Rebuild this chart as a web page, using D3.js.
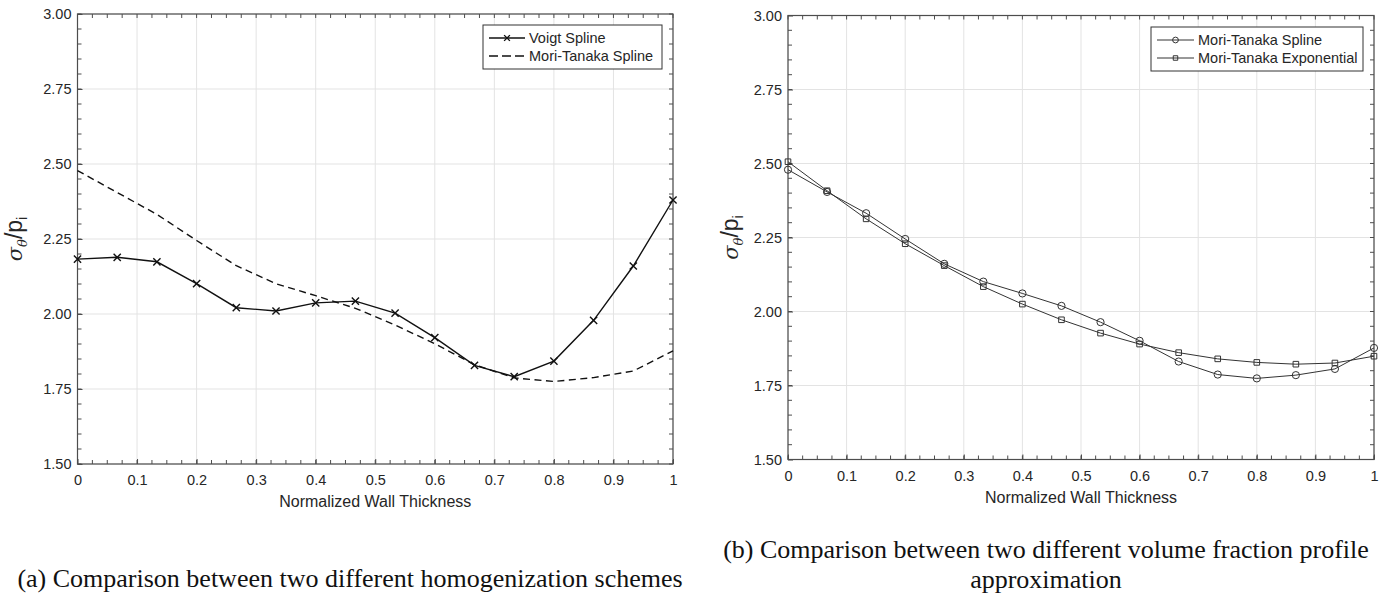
<!DOCTYPE html>
<html>
<head>
<meta charset="utf-8">
<script src="https://cdn.jsdelivr.net/npm/d3@7"></script>
<style>
  body { margin: 0; background: #fff; }
  svg { display: block; }
  text { font-family: "Liberation Sans", Arial, sans-serif; fill: #262626; }
  .caption { font-family: "Liberation Serif", "Times New Roman", serif; fill: #111; }
</style>
</head>
<body>
<script>
// normalized wall thickness positions (16 points)
const thickness = [0, 1/15, 2/15, 3/15, 4/15, 5/15, 6/15, 7/15, 8/15, 9/15, 10/15, 11/15, 12/15, 13/15, 14/15, 1];

// panel (a)
const voigtSpline = [2.183, 2.189, 2.174, 2.101, 2.021, 2.010, 2.037, 2.043, 2.003, 1.921, 1.829, 1.791, 1.843, 1.979, 2.160, 2.380];
const moriTanakaSplineA = [2.478, 2.405, 2.332, 2.245, 2.161, 2.101, 2.061, 2.019, 1.963, 1.901, 1.831, 1.787, 1.775, 1.788, 1.810, 1.877];

// panel (b)
const moriTanakaSpline = [2.479, 2.404, 2.332, 2.245, 2.161, 2.101, 2.061, 2.019, 1.964, 1.901, 1.831, 1.787, 1.774, 1.785, 1.806, 1.877];
const moriTanakaExp = [2.506, 2.408, 2.313, 2.229, 2.155, 2.084, 2.025, 1.972, 1.927, 1.890, 1.861, 1.840, 1.828, 1.822, 1.826, 1.849];

const xTicks = [0, 0.1, 0.2, 0.3, 0.4, 0.5, 0.6, 0.7, 0.8, 0.9, 1];
const yTicks = [1.5, 1.75, 2.0, 2.25, 2.5, 2.75, 3.0];

const captionA = ["(a) Comparison between two different homogenization schemes"];
const captionB = ["(b) Comparison between two different volume fraction profile", "approximation"];

const svg = d3.select("body").append("svg")
    .attr("width", 1389).attr("height", 612);

function drawPanel(p) {
    const x = d3.scaleLinear().domain([0, 1]).range([p.left, p.right]);
    const y = d3.scaleLinear().domain([1.5, 3]).range([p.bottom, p.top]);
    const g = svg.append("g");

    // grid
    g.selectAll(".gx").data(xTicks).enter().append("line")
        .attr("x1", d => x(d)).attr("x2", d => x(d))
        .attr("y1", p.top).attr("y2", p.bottom)
        .attr("stroke", "#e3e3e3").attr("stroke-width", 1);
    g.selectAll(".gy").data(yTicks).enter().append("line")
        .attr("x1", p.left).attr("x2", p.right)
        .attr("y1", d => y(d)).attr("y2", d => y(d))
        .attr("stroke", "#e3e3e3").attr("stroke-width", 1);

    // minor ticks on all four sides, pointing inward
    const xMinor = d3.range(0, 1.0001, 0.025);
    const yMinor = d3.range(1.5, 3.0001, 0.05);
    const tk = g.append("g").attr("stroke", "#4d4d4d").attr("stroke-width", 1);
    xMinor.forEach(v => {
        tk.append("line").attr("x1", x(v)).attr("x2", x(v)).attr("y1", p.bottom).attr("y2", p.bottom - 4);
        tk.append("line").attr("x1", x(v)).attr("x2", x(v)).attr("y1", p.top).attr("y2", p.top + 4);
    });
    yMinor.forEach(v => {
        tk.append("line").attr("y1", y(v)).attr("y2", y(v)).attr("x1", p.left).attr("x2", p.left + 4);
        tk.append("line").attr("y1", y(v)).attr("y2", y(v)).attr("x1", p.right).attr("x2", p.right - 4);
    });

    // axes
    const xAxis = g.append("g").attr("transform", `translate(0,${p.bottom})`)
        .call(d3.axisBottom(x).tickValues(xTicks).tickFormat(d3.format("")).tickSizeInner(-5).tickSizeOuter(0).tickPadding(11));
    const yAxis = g.append("g").attr("transform", `translate(${p.left},0)`)
        .call(d3.axisLeft(y).tickValues(yTicks).tickFormat(d3.format(".2f")).tickSizeInner(-5).tickSizeOuter(0).tickPadding(6));
    [xAxis, yAxis].forEach(a => {
        a.selectAll("path").remove();
        a.selectAll("line").attr("stroke", "#4d4d4d");
        a.selectAll("text").attr("font-size", 14.5).attr("fill", "#262626")
            .attr("font-family", "'Liberation Sans', Arial, sans-serif");
    });

    // box
    g.append("rect").attr("x", p.left).attr("y", p.top)
        .attr("width", p.right - p.left).attr("height", p.bottom - p.top)
        .attr("fill", "none").attr("stroke", "#4d4d4d").attr("stroke-width", 1.2);

    // labels
    g.append("text").attr("x", (p.left + p.right) / 2).attr("y", p.bottom + 43)
        .attr("text-anchor", "middle").attr("font-size", 16)
        .text("Normalized Wall Thickness");
    const yl = g.append("text")
        .attr("transform", `translate(${p.left - p.ylabOff},${(p.top + p.bottom) / 2}) rotate(-90)`)
        .attr("text-anchor", "middle").attr("font-size", 23);
    yl.append("tspan").attr("font-family", "'DejaVu Serif', serif").attr("font-style", "italic").attr("font-size", 21).text("σ");
    yl.append("tspan").attr("font-family", "'DejaVu Serif', serif").attr("font-style", "italic").attr("font-size", 13).attr("dy", 5).text("θ");
    yl.append("tspan").attr("dy", -5).attr("font-size", 23).text("/p");
    yl.append("tspan").attr("font-size", 14).attr("dy", 5).text("i");

    // series
    p.series.forEach(s => {
        const pts = thickness.map((t, i) => [t, s.values[i]]);
        g.append("path").datum(pts)
            .attr("fill", "none").attr("stroke", s.color).attr("stroke-width", s.width)
            .attr("stroke-dasharray", s.dash || null)
            .attr("d", d3.line().x(d => x(d[0])).y(d => y(d[1])));
        if (s.marker) {
            g.selectAll(null).data(pts).enter().append("path")
                .attr("transform", d => `translate(${x(d[0])},${y(d[1])})`)
                .attr("d", markerPath(s.marker))
                .attr("fill", "none").attr("stroke", s.color).attr("stroke-width", s.mwidth || s.width);
        }
    });

    // legend
    const L = p.legend;
    const lg = g.append("g");
    lg.append("rect").attr("x", L.x).attr("y", L.y).attr("width", L.w).attr("height", L.h)
        .attr("fill", "#fff").attr("stroke", "#333").attr("stroke-width", 1);
    p.series.forEach((s, i) => {
        const cy = L.y + 13 + i * 18;
        lg.append("line").attr("x1", L.x + 6).attr("x2", L.x + L.lineLen).attr("y1", cy).attr("y2", cy)
            .attr("stroke", s.color).attr("stroke-width", s.width).attr("stroke-dasharray", s.dash ? "9,4" : null);
        if (s.marker) {
            lg.append("path").attr("transform", `translate(${L.x + 6 + (L.lineLen - 6) / 2},${cy})`)
                .attr("d", markerPath(s.marker, 0.8))
                .attr("fill", "none").attr("stroke", s.color).attr("stroke-width", s.mwidth || s.width);
        }
        lg.append("text").attr("x", L.x + L.lineLen + 4).attr("y", cy + 5)
            .attr("font-size", 14.5).attr("fill", "#111").text(s.name);
    });
}

function markerPath(kind, k = 1) {
    if (kind === "x") { const r = 3.6 * k; return `M${-r},${-r}L${r},${r}M${-r},${r}L${r},${-r}`; }
    if (kind === "o") { const r = 3.6 * k; return `M${r},0A${r},${r} 0 1,1 ${-r},0A${r},${r} 0 1,1 ${r},0Z`; }
    const h = 2.8 * k; return `M${-h},${-h}H${h}V${h}H${-h}Z`;
}

drawPanel({
    left: 77.5, right: 673, top: 14, bottom: 464, ylabOff: 56,
    series: [
        { name: "Voigt Spline", values: voigtSpline, color: "#111", width: 1.4, marker: "x" },
        { name: "Mori-Tanaka Spline", values: moriTanakaSplineA, color: "#111", width: 1.4, dash: "7,4.5" }
    ],
    legend: { x: 483, y: 25, w: 179, h: 44, lineLen: 42 }
});

drawPanel({
    left: 788, right: 1374, top: 15.5, bottom: 459.5, ylabOff: 50,
    series: [
        { name: "Mori-Tanaka Spline", values: moriTanakaSpline, color: "#333", width: 1, marker: "o" },
        { name: "Mori-Tanaka Exponential", values: moriTanakaExp, color: "#333", width: 1, marker: "s" }
    ],
    legend: { x: 1151, y: 27, w: 212, h: 44, lineLen: 43 }
});

// captions
svg.append("g").selectAll("text").data(captionA).enter().append("text")
    .attr("class", "caption").attr("x", 350).attr("y", 587)
    .attr("text-anchor", "middle").attr("font-size", 26).text(d => d);
svg.append("g").selectAll("text").data(captionB).enter().append("text")
    .attr("class", "caption").attr("x", 1046).attr("y", (d, i) => 558 + i * 30)
    .attr("text-anchor", "middle").attr("font-size", 26).text(d => d);
</script>
</body>
</html>
